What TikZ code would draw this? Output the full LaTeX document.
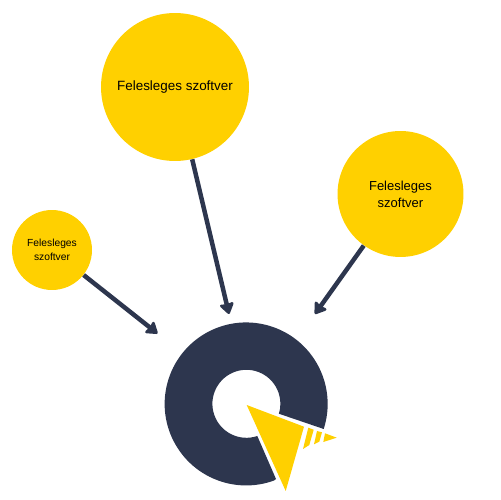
\documentclass[tikz,border=0pt]{standalone}
\usepackage{fontspec}
\setmainfont{Liberation Sans}
\usetikzlibrary{arrows.meta, positioning}
\definecolor{softyellow}{HTML}{FFD000}
\definecolor{darknavy}{HTML}{2D364E}

\begin{document}
\begin{tikzpicture}[
    x=0.02cm,
    y=0.02cm,
    >={Stealth[round, length=0.25cm, width=0.33cm, inset=0.03cm]},
    % Styles
    blob/.style={
        circle,
        fill=softyellow,
        align=center,
        inner sep=0pt
    },
    flow/.style={
        draw=darknavy,
        ->,
        line width=0.09cm
    }
]
    \useasboundingbox (0,0) rectangle (500,500);

    % Circles
    \node[blob, minimum size=2.96cm, font=\fontsize{7.65}{9}\selectfont] (bigblob) at (175,413) {Felesleges szoftver};
    \node[blob, minimum size=2.52cm, font=\fontsize{7.4}{9.6}\selectfont] (midblob) at (400.5,306) {Felesleges\\szoftver};
    \node[blob, minimum size=1.6cm, font=\fontsize{5.85}{7.6}\selectfont] (smallblob) at (52,250) {Felesleges\\szoftver};

    % Ring with the cut
    \coordinate (core) at (246.5,96);
    \fill[darknavy] (323.7,71) arc (-17.9:290:81.5) -- (276,21)
        -- (257.3,64) arc (288.7:-17:34) -- cycle;

    % Pointer
    \fill[softyellow] (246.7,95) -- (304,73.3) -- (285.7,9) -- cycle;
    \fill[softyellow] (308.3,72.3) -- (313.7,70.3) -- (309.3,55) -- (303,51) -- cycle;
    \fill[softyellow] (317,69) -- (322,67.7) -- (319.3,58.3) -- (314,55.7) -- cycle;
    \fill[softyellow] (325,66.7) -- (336.7,62.3) -- (323.3,58) -- cycle;

    % Arrow ends
    \coordinate (tipbig) at (229,186);
    \coordinate (tipmid) at (315,186);
    \coordinate (tipsmall) at (157.5,166.5);

    % Arrows
    \draw[flow] (bigblob) -- (tipbig);
    \draw[flow] (midblob) -- (tipmid);
    \draw[flow] (smallblob) -- (tipsmall);

\end{tikzpicture}
\end{document}
